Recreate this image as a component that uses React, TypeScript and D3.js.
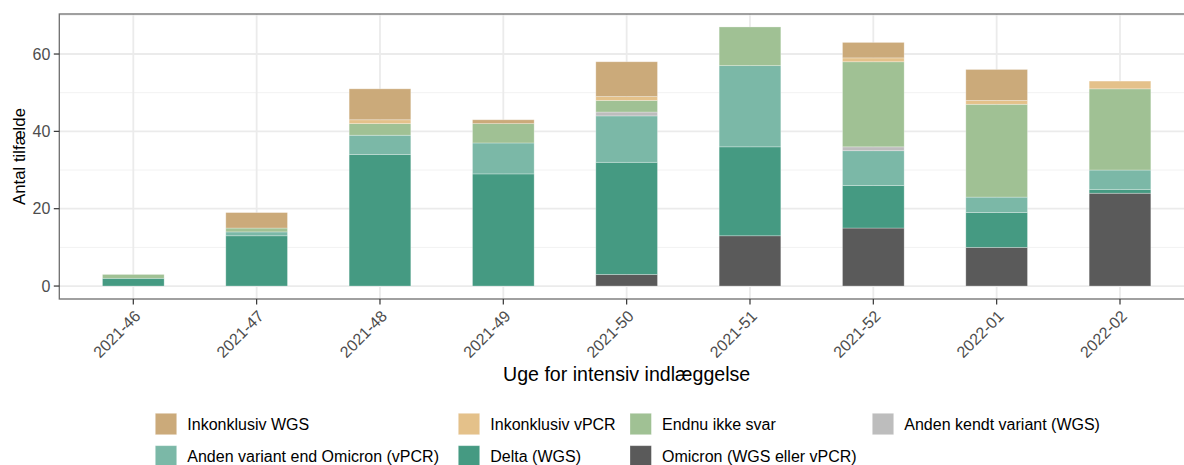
import { useEffect, useRef } from 'react'
import * as d3 from 'd3'

// uger paa x-aksen
const weeks = ['2021-46', '2021-47', '2021-48', '2021-49', '2021-50', '2021-51', '2021-52', '2022-01', '2022-02']

// antal tilfaelde pr. kategori (nederst -> øverst i stakken)
const omicron = [0, 0, 0, 0, 3, 13, 15, 10, 24]
const delta = [2, 13, 34, 29, 29, 23, 11, 9, 1]
const andenVariant = [0, 1, 5, 8, 12, 21, 9, 4, 5]
const andenKendt = [0, 0, 0, 0, 1, 0, 1, 0, 0]
const endnuIkke = [1, 1, 3, 5, 3, 10, 22, 24, 21]
const inkVpcr = [0, 0, 1, 0, 1, 0, 1, 1, 2]
const inkWgs = [0, 4, 8, 1, 9, 0, 4, 8, 0]

const yTicks = [0, 20, 40, 60]
const yMinorTicks = [10, 30, 50, 70]

const seriesNames = [
  'Omicron (WGS eller vPCR)',
  'Delta (WGS)',
  'Anden variant end Omicron (vPCR)',
  'Anden kendt variant (WGS)',
  'Endnu ikke svar',
  'Inkonklusiv vPCR',
  'Inkonklusiv WGS'
]
const seriesValues = [omicron, delta, andenVariant, andenKendt, endnuIkke, inkVpcr, inkWgs]
const seriesColors = ['#5a5a5a', '#459a82', '#7bb8a7', '#bdbdbd', '#a0c194', '#e4c18a', '#cbaa7a']

// legend order as in the figure (4 per row)
const legendOrder = [
  'Inkonklusiv WGS',
  'Inkonklusiv vPCR',
  'Endnu ikke svar',
  'Anden kendt variant (WGS)',
  'Anden variant end Omicron (vPCR)',
  'Delta (WGS)',
  'Omicron (WGS eller vPCR)'
]

const FONT = '"Liberation Sans", Arial, Helvetica, sans-serif'

export default function App() {
  const svgRef = useRef<SVGSVGElement>(null)

  useEffect(() => {
    if (!svgRef.current) return
    const svg = d3.select(svgRef.current)
    svg.selectAll('*').remove()

    const width = 1184
    const height = 465
    const panel = { left: 59.3, top: 14, right: 1194, bottom: 299 }

    svg.attr('width', width).attr('height', height).style('font-family', FONT)

    const rows = weeks.map((w, i) => {
      const r: Record<string, number | string> = { week: w }
      seriesNames.forEach((s, k) => { r[s] = seriesValues[k][i] })
      return r
    })
    const stacked = d3.stack<Record<string, number | string>>()
      .keys(seriesNames)
      .value((d, key) => d[key] as number)(rows)

    const maxY = d3.max(stacked[stacked.length - 1], d => d[1]) as number
    const pad = maxY * 0.05

    const x = d3.scaleBand()
      .domain(weeks)
      .range([panel.left, panel.right])
      .paddingInner(0)
      .paddingOuter(0.1)

    const y = d3.scaleLinear()
      .domain([-pad, maxY + pad])
      .range([panel.bottom, panel.top])

    const color = d3.scaleOrdinal<string, string>().domain(seriesNames).range(seriesColors)

    const g = svg.append('g')

    // grid
    g.append('g').selectAll('line.minor')
      .data(yMinorTicks.filter(t => t <= maxY + pad))
      .enter().append('line')
      .attr('x1', panel.left).attr('x2', panel.right)
      .attr('y1', d => y(d)).attr('y2', d => y(d))
      .attr('stroke', '#f2f2f2').attr('stroke-width', 1)

    g.append('g').selectAll('line.major')
      .data(yTicks)
      .enter().append('line')
      .attr('x1', panel.left).attr('x2', panel.right)
      .attr('y1', d => y(d)).attr('y2', d => y(d))
      .attr('stroke', '#ebebeb').attr('stroke-width', 1.8)

    g.append('g').selectAll('line')
      .data(weeks)
      .enter().append('line')
      .attr('x1', d => x(d)! + x.bandwidth() / 2).attr('x2', d => x(d)! + x.bandwidth() / 2)
      .attr('y1', panel.top).attr('y2', panel.bottom)
      .attr('stroke', '#ebebeb').attr('stroke-width', 1.8)

    // bars
    const barW = x.bandwidth() * 0.5
    g.append('g').selectAll('g')
      .data(stacked)
      .enter().append('g')
      .attr('fill', d => color(d.key))
      .selectAll('rect')
      .data(d => d.filter(p => p[1] - p[0] > 0))
      .enter().append('rect')
      .attr('x', d => x(d.data.week as string)! + x.bandwidth() / 2 - barW / 2)
      .attr('width', barW)
      .attr('y', d => y(d[1]))
      .attr('height', d => y(d[0]) - y(d[1]))
      .attr('stroke', 'rgba(255,255,255,0.35)')
      .attr('stroke-width', 0.8)

    // panel border
    g.append('rect')
      .attr('x', panel.left).attr('y', panel.top)
      .attr('width', panel.right - panel.left).attr('height', panel.bottom - panel.top)
      .attr('fill', 'none').attr('stroke', '#6e6e6e').attr('stroke-width', 1.3)

    // y axis ticks + labels
    const yAx = g.append('g')
    yAx.selectAll('line')
      .data(yTicks).enter().append('line')
      .attr('x1', panel.left - 5.5).attr('x2', panel.left)
      .attr('y1', d => y(d)).attr('y2', d => y(d))
      .attr('stroke', '#333').attr('stroke-width', 1.2)
    yAx.selectAll('text')
      .data(yTicks).enter().append('text')
      .attr('x', panel.left - 9)
      .attr('y', d => y(d))
      .attr('dy', '0.36em')
      .attr('text-anchor', 'end')
      .attr('fill', '#4d4d4d')
      .style('font-size', '16px')
      .text(d => d)

    // x axis ticks + labels
    const xAx = g.append('g')
    xAx.selectAll('line')
      .data(weeks).enter().append('line')
      .attr('x1', d => x(d)! + x.bandwidth() / 2).attr('x2', d => x(d)! + x.bandwidth() / 2)
      .attr('y1', panel.bottom).attr('y2', panel.bottom + 5.5)
      .attr('stroke', '#333').attr('stroke-width', 1.2)
    xAx.selectAll('text')
      .data(weeks).enter().append('text')
      .attr('transform', d => `translate(${x(d)! + x.bandwidth() / 2},${panel.bottom + 10}) rotate(-45)`)
      .attr('dy', '0.72em')
      .attr('text-anchor', 'end')
      .attr('fill', '#4d4d4d')
      .style('font-size', '16px')
      .text(d => d)

    // axis titles
    g.append('text')
      .attr('x', (panel.left + panel.right) / 2)
      .attr('y', 380.7)
      .attr('text-anchor', 'middle')
      .attr('fill', '#000')
      .style('font-size', '19.6px')
      .text('Uge for intensiv indlæggelse')

    g.append('text')
      .attr('transform', `translate(24.5,${(panel.top + panel.bottom) / 2}) rotate(-90)`)
      .attr('text-anchor', 'middle')
      .attr('fill', '#000')
      .style('font-size', '16.8px')
      .text('Antal tilfælde')

    // legend
    const colX = [155.3, 458.3, 630, 872.3]
    const rowY = [413.3, 445.7]
    const keySize = 21.4
    const leg = g.append('g')
    const items = leg.selectAll('g')
      .data(legendOrder)
      .enter().append('g')
      .attr('transform', (d, i) => `translate(${colX[i % 4]},${rowY[Math.floor(i / 4)]})`)
    items.append('rect')
      .attr('width', keySize).attr('height', keySize)
      .attr('fill', d => color(d))
      .attr('stroke', 'rgba(255,255,255,0.35)')
      .attr('stroke-width', 0.8)
    items.append('text')
      .attr('x', 32)
      .attr('y', 16.6)
      .attr('fill', '#000')
      .style('font-size', '16px')
      .text(d => d)
  }, [])

  return (
    <svg ref={svgRef} style={{ position: 'absolute', left: 0, top: 0, display: 'block' }}></svg>
  )
}
